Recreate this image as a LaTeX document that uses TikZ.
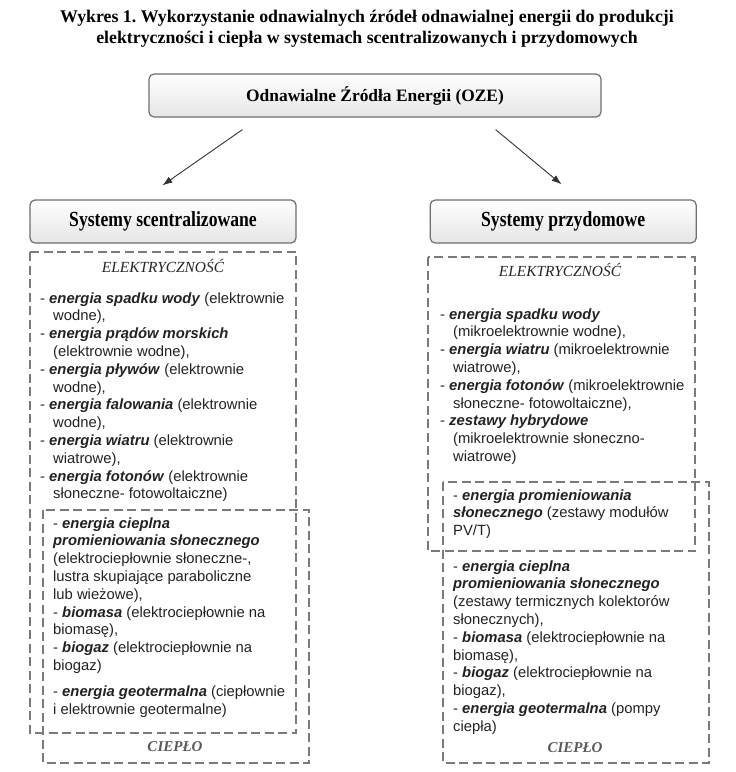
\documentclass[tikz,border=0pt]{standalone}
\usepackage{fontspec}
\setmainfont{Liberation Serif}
\setsansfont{Liberation Sans}
\newfontfamily\headfont[FakeStretch=0.82]{Liberation Serif}
\usepackage{xcolor}
\usetikzlibrary{arrows.meta,positioning}

\definecolor{txtgray}{HTML}{222222}
\definecolor{dashgray}{HTML}{7A7A7A}
\definecolor{boxgray}{HTML}{6E6E6E}
\definecolor{labgray}{HTML}{5A5A5A}

\newcommand{\en}[1]{\textbf{\textit{#1}}}
\newcommand{\ind}{\hspace*{13pt}}
\frenchspacing

\begin{document}
\begin{tikzpicture}[x=1pt,y=-1pt,
  box/.style={rectangle,draw=boxgray,line width=1.2pt,rounded corners=5pt,
              top color=white,bottom color=black!10,text=black},
  arr/.style={-{Latex[length=10pt,width=7pt]},line width=0.9pt,draw=black!80},
  dashbox/.style={draw=dashgray,line width=1.2pt,dash pattern=on 9pt off 4.5pt},
  lst/.style={anchor=north west,inner sep=0pt,align=left,text=txtgray,
              font=\sffamily\fontsize{14.8}{17.8}\selectfont},
  lab/.style={inner sep=0pt,font=\itshape\fontsize{15.4}{18}\selectfont}
]
\useasboundingbox (0,0) rectangle (736,772);

% title
\node[align=center,font=\bfseries\fontsize{17.8}{21}\selectfont] (title) at (367,28.5)
  {Wykres 1. Wykorzystanie odnawialnych źródeł odnawialnej energii do produkcji\\
   elektryczności i ciepła w systemach scentralizowanych i przydomowych};

% boxes
\node[box,minimum width=452pt,minimum height=43pt,
      font=\bfseries\fontsize{17.4}{20}\selectfont] (oze) at (375,95.5)
  {Odnawialne Źródła Energii (OZE)};
\node[box,minimum width=266pt,minimum height=43pt,
      font=\headfont\bfseries\fontsize{21.5}{24}\selectfont] (cen) at (163,221.5)
  {Systemy scentralizowane};
\node[box,minimum width=266pt,minimum height=43pt,
      font=\headfont\bfseries\fontsize{21.5}{24}\selectfont] (dom) [right=133pt of cen]
  {Systemy przydomowe};

\draw[arr] ([xshift=94pt,yshift=-12pt]oze.south west) -- ([xshift=133pt,yshift=14pt]cen.north west);
\draw[arr] ([xshift=-106pt,yshift=-12pt]oze.south east) -- ([xshift=132pt,yshift=15pt]dom.north west);

% dashed frames
\draw[dashbox] (30,252) rectangle (296,733);
\draw[dashbox] (43,510) rectangle (309,763);
\draw[dashbox] (428,257) rectangle (695,551);
\draw[dashbox] (443,482) rectangle (709,763);

% labels
\node[lab,text=black!85] (cenelLab) at (163,266) {ELEKTRYCZNOŚĆ};
\node[lab,text=black!85] (domelLab) at (560,270) {ELEKTRYCZNOŚĆ};
\node[lab,text=labgray,font=\bfseries\itshape\fontsize{15}{18}\selectfont] (cenheatLab) at (175,747) {CIEPŁO};
\node[lab,text=labgray,font=\bfseries\itshape\fontsize{15}{18}\selectfont] (domheatLab) at (575,748) {CIEPŁO};

% lists
\node[lst] (cenel) at (40,290.5) {\strut- \en{energia spadku wody} (elektrownie\\
  \ind wodne),\\
  - \en{energia prądów morskich}\\
  \ind (elektrownie wodne),\\
  - \en{energia pływów} (elektrownie\\
  \ind wodne),\\
  - \en{energia falowania} (elektrownie\\
  \ind wodne),\\
  - \en{energia wiatru} (elektrownie\\
  \ind wiatrowe),\\
  - \en{energia fotonów} (elektrownie\\
  \ind słoneczne- fotowoltaiczne)};

\node[lst] (cenheat) at (53,515.5) {\strut- \en{energia cieplna}\\
  \en{promieniowania słonecznego}\\
  (elektrociepłownie słoneczne-,\\
  lustra skupiające paraboliczne\\
  lub wieżowe),\\
  - \en{biomasa} (elektrociepłownie na\\
  biomasę),\\
  - \en{biogaz} (elektrociepłownie na\\
  biogaz)\\[8pt]
  - \en{energia geotermalna} (ciepłownie\\
  i elektrownie geotermalne)};

\node[lst] (domel) at (440,306.5) {\strut- \en{energia spadku wody}\\
  \ind (mikroelektrownie wodne),\\
  - \en{energia wiatru} (mikroelektrownie\\
  \ind wiatrowe),\\
  - \en{energia fotonów} (mikroelektrownie\\
  \ind słoneczne- fotowoltaiczne),\\
  - \en{zestawy hybrydowe}\\
  \ind (mikroelektrownie słoneczno-\\
  \ind wiatrowe)};

\node[lst] (dompv) at (453,487.5) {\strut- \en{energia promieniowania}\\
  \en{słonecznego} (zestawy modułów\\
  PV/T)};

\node[lst] (domheat) at (453,558.5) {\strut- \en{energia cieplna}\\
  \en{promieniowania słonecznego}\\
  (zestawy termicznych kolektorów\\
  słonecznych),\\
  - \en{biomasa} (elektrociepłownie na\\
  biomasę),\\
  - \en{biogaz} (elektrociepłownie na\\
  biogaz),\\
  - \en{energia geotermalna} (pompy\\
  ciepła)};
\end{tikzpicture}
\end{document}
